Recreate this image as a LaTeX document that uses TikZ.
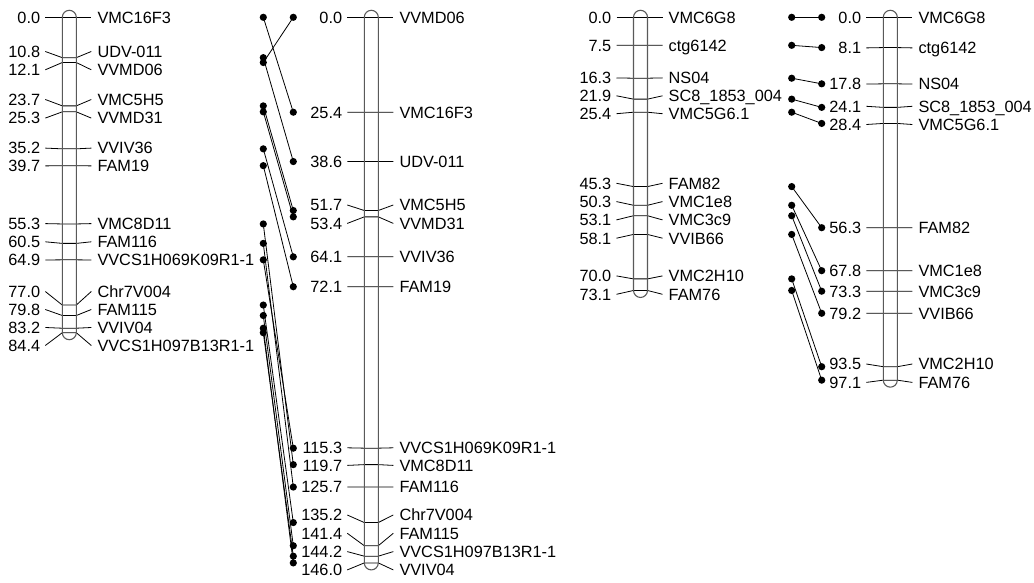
\documentclass[tikz,border=0pt]{standalone}
\usepackage{fontspec}
\setmainfont{Liberation Sans}
\begin{document}
\begin{tikzpicture}[x=1pt,y=-1pt,
  declare function={cy(\c)=17.3+3.737*\c;},
  lbl/.style={font=\fontsize{16.3}{18}\selectfont, inner sep=0pt, text height=11.7pt, text depth=0pt},
  num/.style={lbl, anchor=east},
  mname/.style={lbl, anchor=west},
  tick/.style={line width=0.8pt, black},
  chromo/.style={line width=1.1pt, draw=black!65},
  dot/.style={circle, fill=black, inner sep=0pt, minimum size=7.2pt},
  link/.style={line width=0.8pt, black}]
\useasboundingbox (0,0) rectangle (1034,583);

% ---------- chromosome A ----------
\def\L{62.3}
\foreach \c/\ly/\n [count=\i] in {0.0/17.3/VMC16F3, 10.8/51.5/UDV-011, 12.1/69.8/VVMD06,
  23.7/99.5/VMC5H5, 25.3/118.1/VVMD31, 35.2/148.1/VVIV36, 39.7/165.9/FAM19,
  55.3/223.6/VMC8D11, 60.5/241.8/FAM116, 64.9/260.0/VVCS1H069K09R1-1,
  77.0/291.5/Chr7V004, 79.8/309.5/FAM115, 83.2/327.5/VVIV04, 84.4/345.5/VVCS1H097B13R1-1}{
  \draw[tick] (\L-17,\ly) -- (\L,{cy(\c)}) -- (\L+14,{cy(\c)}) -- (\L+29,\ly);
  \node[num] (An\i) at (\L-22,\ly) {\c};
  \node[mname] (At\i) at (\L+35,\ly) {\n};
}
\draw[chromo] (\L,{cy(0)}) -- (\L,{cy(84.4)}) arc[start angle=180,end angle=360,radius=7pt]
  -- (\L+14,{cy(0)}) arc[start angle=0,end angle=180,radius=7pt] -- cycle;

% ---------- chromosome B ----------
\def\L{364.3}
\foreach \c/\ly/\n [count=\i] in {0.0/17.3/VVMD06, 25.4/112.2/VMC16F3, 38.6/161.5/UDV-011,
  51.7/205.0/VMC5H5, 53.4/223.4/VVMD31, 64.1/256.8/VVIV36, 72.1/286.7/FAM19,
  115.3/447.8/VVCS1H069K09R1-1, 119.7/465.4/VMC8D11, 125.7/487.0/FAM116,
  135.2/515.0/Chr7V004, 141.4/533.3/FAM115, 144.2/551.6/VVCS1H097B13R1-1, 146.0/569.9/VVIV04}{
  \draw[tick] (\L-17,\ly) -- (\L,{cy(\c)}) -- (\L+14,{cy(\c)}) -- (\L+29,\ly);
  \node[num] (Bn\i) at (\L-22,\ly) {\c};
  \node[mname] (Bt\i) at (\L+35,\ly) {\n};
}
\draw[chromo] (\L,{cy(0)}) -- (\L,{cy(146.0)}) arc[start angle=180,end angle=360,radius=7pt]
  -- (\L+14,{cy(0)}) arc[start angle=0,end angle=180,radius=7pt] -- cycle;

% ---------- chromosome C ----------
\def\L{633.5}
\foreach \c/\ly/\n [count=\i] in {0.0/17.3/VMC6G8, 7.5/45.3/ctg6142, 16.3/77.9/NS04,
  21.9/95.8/SC8\_1853\_004, 25.4/113.7/VMC5G6.1, 45.3/183.3/FAM82, 50.3/201.6/VMC1e8,
  53.1/219.9/VMC3c9, 58.1/238.2/VVIB66, 70.0/275.9/VMC2H10, 73.1/294.3/FAM76}{
  \draw[tick] (\L-17,\ly) -- (\L,{cy(\c)}) -- (\L+14,{cy(\c)}) -- (\L+29,\ly);
  \node[num] (Cn\i) at (\L-22,\ly) {\c};
  \node[mname] (Ct\i) at (\L+35,\ly) {\n};
}
\draw[chromo] (\L,{cy(0)}) -- (\L,{cy(73.1)}) arc[start angle=180,end angle=360,radius=7pt]
  -- (\L+14,{cy(0)}) arc[start angle=0,end angle=180,radius=7pt] -- cycle;

% ---------- chromosome D ----------
\def\L{883.3}
\foreach \c/\ly/\n [count=\i] in {0.0/17.3/VMC6G8, 8.1/47.9/ctg6142, 17.8/84.1/NS04,
  24.1/106.3/SC8\_1853\_004, 28.4/124.5/VMC5G6.1, 56.3/227.7/FAM82, 67.8/270.7/VMC1e8,
  73.3/291.2/VMC3c9, 79.2/313.3/VVIB66, 93.5/364.0/VMC2H10, 97.1/382.4/FAM76}{
  \draw[tick] (\L-17,\ly) -- (\L,{cy(\c)}) -- (\L+14,{cy(\c)}) -- (\L+29,\ly);
  \node[num] (Dn\i) at (\L-22,\ly) {\c};
  \node[mname] (Dt\i) at (\L+35,\ly) {\n};
}
\draw[chromo] (\L,{cy(0)}) -- (\L,{cy(97.1)}) arc[start angle=180,end angle=360,radius=7pt]
  -- (\L+14,{cy(0)}) arc[start angle=0,end angle=180,radius=7pt] -- cycle;

% ---------- links A -> B ----------
\foreach \id/\a/\b in {VMC16F3/0.0/25.4, UDV/10.8/38.6, VVMD06/12.1/0.0, VMC5H5/23.7/51.7,
  VVMD31/25.3/53.4, VVIV36/35.2/64.1, FAM19/39.7/72.1, VMC8D11/55.3/119.7, FAM116/60.5/125.7,
  K09/64.9/115.3, Chr7/77.0/135.2, FAM115/79.8/141.4, VVIV04/83.2/146.0, B13/84.4/144.2}{
  \node[dot] (abL\id) at (263.3,{cy(\a)}) {};
  \node[dot] (abR\id) at (293.3,{cy(\b)}) {};
  \draw[link] (abL\id.center) -- (abR\id.center);
}

% ---------- links C -> D ----------
\foreach \id/\a/\b in {VMC6G8/0.0/0.0, ctg/7.5/8.1, NS04/16.3/17.8, SC8/21.9/24.1,
  VMC5G6/25.4/28.4, FAM82/45.3/56.3, VMC1e8/50.3/67.8, VMC3c9/53.1/73.3, VVIB66/58.1/79.2,
  VMC2H10/70.0/93.5, FAM76/73.1/97.1}{
  \node[dot] (cdL\id) at (791.7,{cy(\a)}) {};
  \node[dot] (cdR\id) at (821.7,{cy(\b)}) {};
  \draw[link] (cdL\id.center) -- (cdR\id.center);
}
\end{tikzpicture}
\end{document}
